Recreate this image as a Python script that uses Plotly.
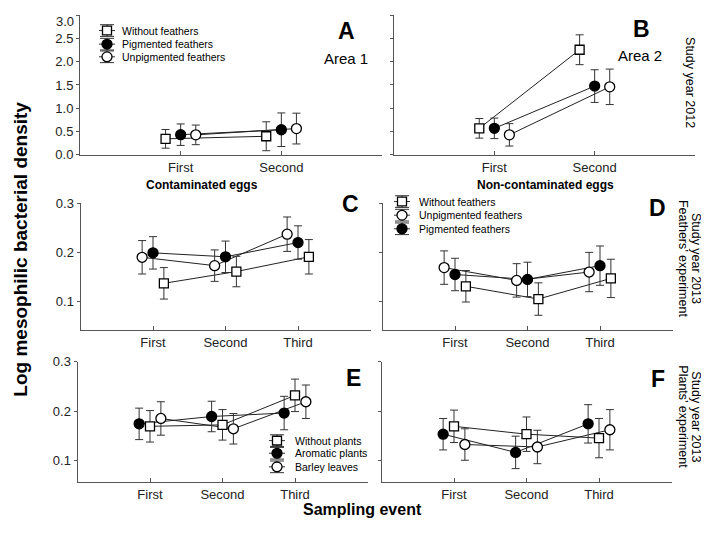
import numpy as np
import plotly.graph_objects as go

# ---------------- data ----------------
events_2012 = ["First", "Second"]
events_2013 = ["First", "Second", "Third"]

# Panel A: Study year 2012, Area 1, contaminated eggs
a_without = [0.345, 0.40]
a_without_err = [0.20, 0.31]
a_pigmented = [0.434, 0.54]
a_pigmented_err = [0.23, 0.36]
a_unpigmented = [0.43, 0.565]
a_unpigmented_err = [0.21, 0.33]

# Panel B: Study year 2012, Area 2, non-contaminated eggs
b_without = [0.57, 2.255]
b_without_err = [0.21, 0.32]
b_pigmented = [0.57, 1.476]
b_pigmented_err = [0.22, 0.35]
b_unpigmented = [0.43, 1.46]
b_unpigmented_err = [0.24, 0.38]

# Panel C: 2013 feathers' experiment, contaminated eggs
c_without = [0.137, 0.161, 0.191]
c_without_err = [0.032, 0.031, 0.035]
c_unpigmented = [0.190, 0.173, 0.237]
c_unpigmented_err = [0.034, 0.032, 0.035]
c_pigmented = [0.199, 0.191, 0.220]
c_pigmented_err = [0.033, 0.032, 0.034]

# Panel D: 2013 feathers' experiment, non-contaminated eggs
d_without = [0.131, 0.105, 0.147]
d_without_err = [0.032, 0.033, 0.039]
d_unpigmented = [0.169, 0.143, 0.160]
d_unpigmented_err = [0.034, 0.034, 0.040]
d_pigmented = [0.155, 0.145, 0.173]
d_pigmented_err = [0.033, 0.035, 0.040]

# Panel E: 2013 plants' experiment, contaminated eggs
e_without = [0.169, 0.172, 0.232]
e_without_err = [0.032, 0.031, 0.033]
e_aromatic = [0.174, 0.189, 0.196]
e_aromatic_err = [0.032, 0.031, 0.034]
e_barley = [0.185, 0.164, 0.219]
e_barley_err = [0.034, 0.031, 0.034]

# Panel F: 2013 plants' experiment, non-contaminated eggs
f_without = [0.169, 0.153, 0.145]
f_without_err = [0.033, 0.035, 0.040]
f_aromatic = [0.153, 0.116, 0.174]
f_aromatic_err = [0.032, 0.033, 0.039]
f_barley = [0.132, 0.127, 0.162]
f_barley_err = [0.032, 0.034, 0.041]

ticks_2012 = [0.0, 0.5, 1.0, 1.5, 2.0, 2.5, 3.0]
ticks_2013 = [0.1, 0.2, 0.3]

legend_feathers_2012 = ["Without feathers", "Pigmented feathers", "Unpigmented feathers"]
legend_feathers_2013 = ["Without feathers", "Unpigmented feathers", "Pigmented feathers"]
legend_plants = ["Without plants", "Aromatic plants", "Barley leaves"]

# ---------------- styling ----------------
# the page body adds an 8 px margin, so the figure is drawn 8 px smaller
OFF = 8
W, H = 709 - OFF, 538 - OFF
FONT = "Arial, Liberation Sans, Helvetica, sans-serif"
AX = "#555555"
EB = "#333333"
LN = "#222222"
TXT = "#222222"

SQ = dict(symbol="square", size=9, color="white", line=dict(color="black", width=1.3))
FC = dict(symbol="circle", size=10, color="black", line=dict(color="black", width=1.3))
OC = dict(symbol="circle", size=10, color="white", line=dict(color="black", width=1.3))


def px_x(p):
    return min(max((p - OFF) / W, 0), 1)


def px_y(p):
    return min(max(1 - (p - OFF) / H, 0), 1)


fig = go.Figure()

# (axis suffix, categories, [(values, errors, marker style, offset), ...])
panels = [
    ("", events_2012, [(a_without, a_without_err, SQ, -0.15),
                        (a_pigmented, a_pigmented_err, FC, 0.0),
                        (a_unpigmented, a_unpigmented_err, OC, 0.15)]),
    ("2", events_2012, [(b_without, b_without_err, SQ, -0.15),
                         (b_pigmented, b_pigmented_err, FC, 0.0),
                         (b_unpigmented, b_unpigmented_err, OC, 0.15)]),
    ("3", events_2013, [(c_unpigmented, c_unpigmented_err, OC, -0.15),
                         (c_pigmented, c_pigmented_err, FC, 0.0),
                         (c_without, c_without_err, SQ, 0.15)]),
    ("4", events_2013, [(d_unpigmented, d_unpigmented_err, OC, -0.15),
                         (d_pigmented, d_pigmented_err, FC, 0.0),
                         (d_without, d_without_err, SQ, 0.15)]),
    ("5", events_2013, [(e_aromatic, e_aromatic_err, FC, -0.15),
                         (e_without, e_without_err, SQ, 0.0),
                         (e_barley, e_barley_err, OC, 0.15)]),
    ("6", events_2013, [(f_aromatic, f_aromatic_err, FC, -0.15),
                         (f_without, f_without_err, SQ, 0.0),
                         (f_barley, f_barley_err, OC, 0.15)]),
]

for suffix, cats, series in panels:
    xa, ya = "x" + suffix, "y" + suffix
    idx = np.arange(len(cats), dtype=float)
    # connecting lines first (behind markers)
    for vals, errs, mk, off in series:
        fig.add_trace(go.Scatter(x=idx + off, y=vals, mode="lines",
                                 line=dict(color=LN, width=1),
                                 xaxis=xa, yaxis=ya, showlegend=False,
                                 hoverinfo="skip"))
    for vals, errs, mk, off in series:
        fig.add_trace(go.Scatter(x=idx + off, y=vals, mode="markers",
                                 marker=mk,
                                 error_y=dict(type="data", array=errs, visible=True,
                                              color=EB, thickness=1, width=4),
                                 xaxis=xa, yaxis=ya, showlegend=False))

# ---------------- axes ----------------
# domains in page pixels: (x0, x1, ytop, ybottom)
dom = {
    "": (80, 382, 7, 152),
    "2": (394, 695, 7, 152),
    "3": (80.5, 370.5, 201.7, 332.2),
    "4": (382.5, 672.5, 201.7, 332.2),
    "5": (77.5, 367.5, 365, 489),
    "6": (381.5, 671.5, 365, 489),
}
yranges = {"": [0, 3], "2": [0, 3], "3": [0.042, 0.3], "4": [0.042, 0.3],
           "5": [0.055, 0.3], "6": [0.055, 0.3]}

ann = []
layout = {}
for suffix, cats, _ in panels:
    x0, x1, yt, yb = dom[suffix]
    n = len(cats)
    xv = [-1] + list(range(n)) + [n]
    xt = [""] + cats + [""]
    layout["xaxis" + suffix] = dict(
        domain=[px_x(x0), px_x(x1)], anchor="y" + suffix, range=[-1, n],
        tickmode="array", tickvals=xv, ticktext=xt,
        showline=True, linecolor=AX, linewidth=1,
        ticks="inside", ticklen=4, tickcolor=AX, tickwidth=1,
        showgrid=False, zeroline=False,
        tickfont=dict(family=FONT, size=13, color=TXT),
        fixedrange=True)
    top = suffix in ("", "2")
    left = suffix in ("", "3", "5")
    tv = ticks_2012 if top else ticks_2013
    tt = [f"{v:.1f}" for v in tv] if left else [""] * len(tv)
    if suffix == "":
        # the top label would touch the page edge; it is drawn slightly lower below
        tt = tt[:-1] + [""]
        ann.append(dict(x=px_x(x0 - 4.5), y=tv[-1], xref="paper", yref="y",
                        yshift=-6, text=f"{tv[-1]:.1f}", showarrow=False,
                        xanchor="right", yanchor="middle",
                        font=dict(family=FONT, size=13, color=TXT)))
    layout["yaxis" + suffix] = dict(
        domain=[px_y(yb), px_y(yt)], anchor="x" + suffix, range=yranges[suffix],
        tickmode="array", tickvals=tv, ticktext=tt,
        showline=True, linecolor=AX, linewidth=1,
        ticks="outside", ticklen=3, tickcolor=AX, tickwidth=1,
        showgrid=False, zeroline=False,
        tickfont=dict(family=FONT, size=13, color=TXT),
        fixedrange=True)

# ---------------- annotations ----------------


def text(xp, yp, s, size, bold=False, angle=0, xanchor="center", yanchor="middle"):
    ann.append(dict(x=px_x(xp), y=px_y(yp), xref="paper", yref="paper",
                    text=f"<b>{s}</b>" if bold else s, showarrow=False,
                    textangle=angle, xanchor=xanchor, yanchor=yanchor,
                    font=dict(family=FONT, size=size, color="black")))


for letter, xp, yp in [("A", 346, 24), ("B", 641, 22), ("C", 350, 203),
                       ("D", 657, 207), ("E", 353, 382), ("F", 658, 383)]:
    text(xp, yp, letter, 23, bold=True)

text(346, 53, "Area 1", 15)
text(640, 50, "Area 2", 15)
text(202, 183, "Contaminated eggs", 12, bold=True)
text(545, 183, "Non-contaminated eggs", 12, bold=True)

text(690, 77, "Study year 2012", 12.5, angle=90)
text(696, 258, "Study year 2013", 12.5, angle=90)
text(683, 258, "Feathers\u2019 experiment", 12.5, angle=90)
text(696, 421, "Study year 2013", 12.5, angle=90)
text(683, 421, "Plants\u2019 experiment", 12.5, angle=90)

text(OFF, 249, "Log mesophilic bacterial density", 19, bold=True, angle=-90,
     xanchor="left")
text(362, 517, "Sampling event", 16, bold=True)

# ---------------- custom legends (error-bar glyphs) ----------------
shapes = []


def legend(cx, tx, rows, labels, markers):
    for ry, lab, mk in zip(rows, labels, markers):
        line = dict(color=EB, width=1)
        for (ax0, ay0, ax1, ay1) in [(cx - 7, ry - 6, cx + 7, ry - 6),
                                     (cx - 7, ry + 6, cx + 7, ry + 6),
                                     (cx, ry - 6, cx, ry + 6),
                                     (cx - 8, ry, cx + 8, ry)]:
            shapes.append(dict(type="line", xref="paper", yref="paper",
                               x0=px_x(ax0), y0=px_y(ay0), x1=px_x(ax1), y1=px_y(ay1),
                               line=line))
        r = mk["size"] / 2
        shapes.append(dict(type="rect" if mk["symbol"] == "square" else "circle",
                           xref="paper", yref="paper",
                           x0=px_x(cx - r), x1=px_x(cx + r),
                           y0=px_y(ry - r), y1=px_y(ry + r),
                           fillcolor=mk["color"], line=dict(color="black", width=1.3)))
        text(tx, ry, lab, 10.5, xanchor="left")


legend(107, 120, [24, 38, 51], legend_feathers_2012, [SQ, FC, OC])
legend(402, 417, [200, 214, 228], legend_feathers_2013, [SQ, OC, FC])
legend(277, 293, [446, 459, 473], legend_plants, [SQ, FC, OC])

fig.update_layout(
    width=W, height=H, margin=dict(l=0, r=0, t=0, b=0),
    paper_bgcolor="white", plot_bgcolor="white",
    showlegend=False, annotations=ann, shapes=shapes,
    font=dict(family=FONT), **layout)

fig.write_html("out.html")
